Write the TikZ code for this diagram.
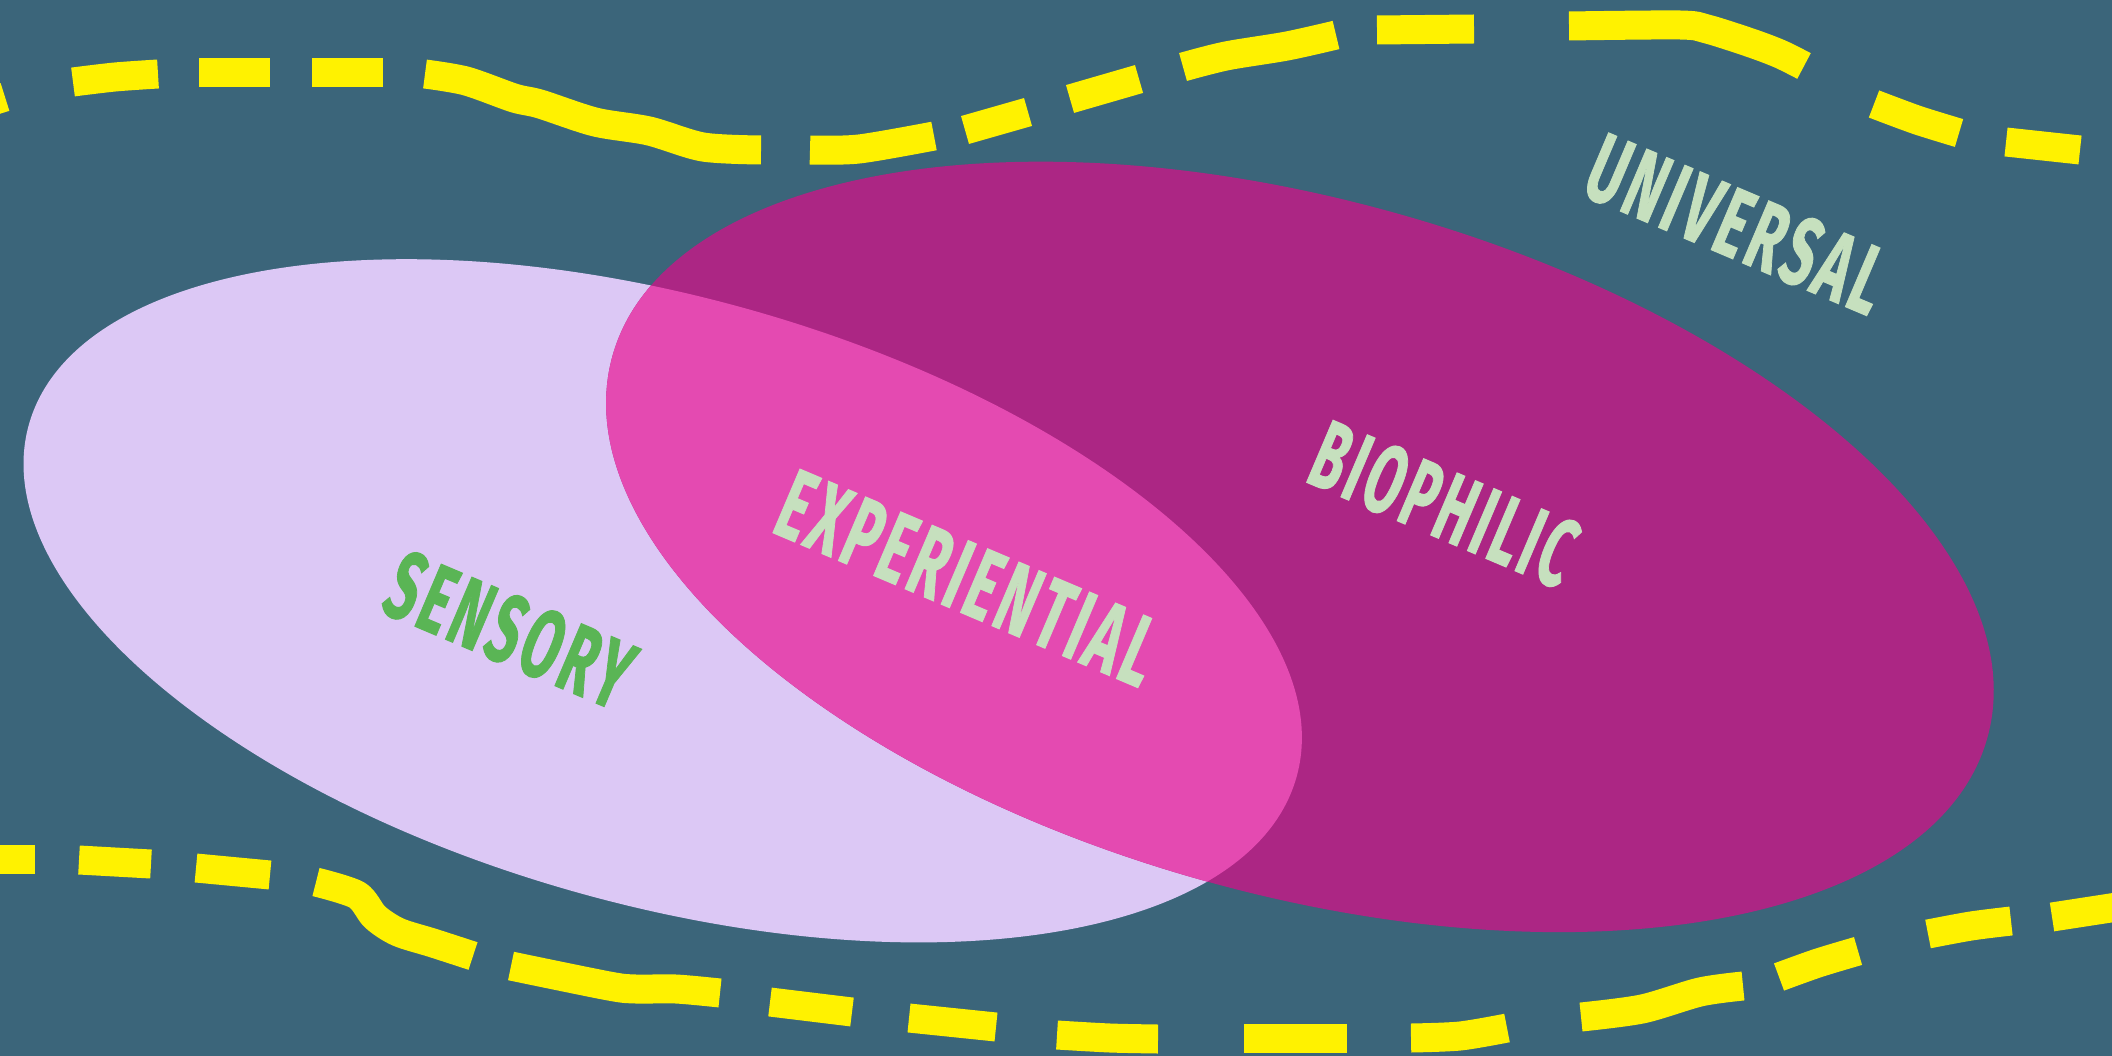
\documentclass[tikz,border=0pt]{standalone}
\usepackage{fontspec}
\usepackage{graphicx}
\newfontfamily\lblfont[LetterSpace=8,FakeBold=1.2]{Fira Sans}
\definecolor{bgc}{RGB}{59,101,122}
\definecolor{lav}{RGB}{220,200,245}
\definecolor{mag}{RGB}{172,38,132}
\definecolor{ovl}{RGB}{228,74,177}
\definecolor{yel}{RGB}{255,242,0}
\definecolor{txtg}{RGB}{198,224,190}
\definecolor{sensg}{RGB}{90,181,85}
\begin{document}
\begin{tikzpicture}[x=0.1mm,y=-0.1mm,
  dashseg/.style={draw=yel, line width=2.9mm, line cap=butt, line join=round},
  lbl/.style={rotate=-23, inner sep=0pt, font=\lblfont\bfseries},
  lavell/.style={rotate around={-15.5:(662.7,600.8)}},
  magell/.style={rotate around={-15.5:(1299.9,546.9)}}]
\useasboundingbox (0,0) rectangle (2112,1056);
\clip (0,0) rectangle (2112,1056);
\fill[bgc] (0,0) rectangle (2112,1056);
% ellipses
\fill[lav, lavell] (662.7,600.8) ellipse [x radius=65.79mm, y radius=30.39mm];
\fill[mag, magell] (1299.9,546.9) ellipse [x radius=71.35mm, y radius=34.73mm];
\begin{scope}
  \clip[lavell] (662.7,600.8) ellipse [x radius=65.79mm, y radius=30.39mm];
  \fill[ovl, magell] (1299.9,546.9) ellipse [x radius=71.35mm, y radius=34.73mm];
\end{scope}
% top dashed line
\draw[dashseg] (-30,108) -- (5,97);
\draw[dashseg] plot[smooth, tension=0.5] coordinates {(73,82) (115,77) (158,74)};
\draw[dashseg] (199,73) -- (270,73);
\draw[dashseg] (312,73) -- (383,73);
\draw[dashseg] plot[smooth, tension=0.5] coordinates {(425,74) (466,81) (514,98) (540,104) (595,122) (649,131) (703,147) (761,150)};
\draw[dashseg] plot[smooth, tension=0.5] coordinates {(810,150) (859,149) (934,136)};
\draw[dashseg] (965,130) -- (1028,112);
\draw[dashseg] (1070,99) -- (1139,79);
\draw[dashseg] plot[smooth, tension=0.5] coordinates {(1183,67) (1226,56) (1287,46) (1336,35)};
\draw[dashseg] (1377,30) -- (1474,29);
\draw[dashseg] plot[smooth, tension=0.5] coordinates {(1569,26) (1680,25) (1707,29) (1751,43) (1780,54) (1804,66)};
\draw[dashseg] plot[smooth, tension=0.5] coordinates {(1874,104) (1917,120) (1959,133)};
\draw[dashseg] (2006,142) -- (2080,150);
% bottom dashed line
\draw[dashseg] (-10,859) -- (35,859);
\draw[dashseg] (79,860) -- (151,864);
\draw[dashseg] (196,868) -- (270,875);
\draw[dashseg] plot[smooth, tension=0.5] coordinates {(316,882) (357,895) (375,917) (398,932) (433,943) (473,956)};
\draw[dashseg] plot[smooth, tension=0.5] coordinates {(511,966) (609,986) (636,989) (676,989) (720,993)};
\draw[dashseg] (770,1002) -- (852,1012);
\draw[dashseg] (909,1018) -- (996,1027);
\draw[dashseg] plot[smooth, tension=0.5] coordinates {(1057,1035) (1110,1038) (1158,1039)};
\draw[dashseg] (1244,1038) -- (1347,1038);
\draw[dashseg] plot[smooth, tension=0.5] coordinates {(1411,1038) (1460,1036) (1507,1028)};
\draw[dashseg] plot[smooth, tension=0.5] coordinates {(1581,1017) (1642,1009) (1700,992) (1743,986)};
\draw[dashseg] plot[smooth, tension=0.5] coordinates {(1779,977) (1818,963) (1858,951)};
\draw[dashseg] plot[smooth, tension=0.5] coordinates {(1928,934) (1971,926) (2011,921)};
\draw[dashseg] (2052,917) -- (2130,905);
% labels
\node[lbl, text=txtg] (universal) at (1737,224) {\resizebox{31.4mm}{6.9mm}{UNIVERSAL}};
\node[lbl, text=txtg] (biophilic) at (1444,504) {\resizebox{27.7mm}{6.9mm}{BIOPHILIC}};
\node[lbl, text=txtg] (experiential) at (968,578) {\resizebox{40.2mm}{6.9mm}{EXPERIENTIAL}};
\node[lbl, text=sensg] (sensory) at (510,630) {\resizebox{25.7mm}{6.9mm}{SENSORY}};
\end{tikzpicture}
\end{document}
